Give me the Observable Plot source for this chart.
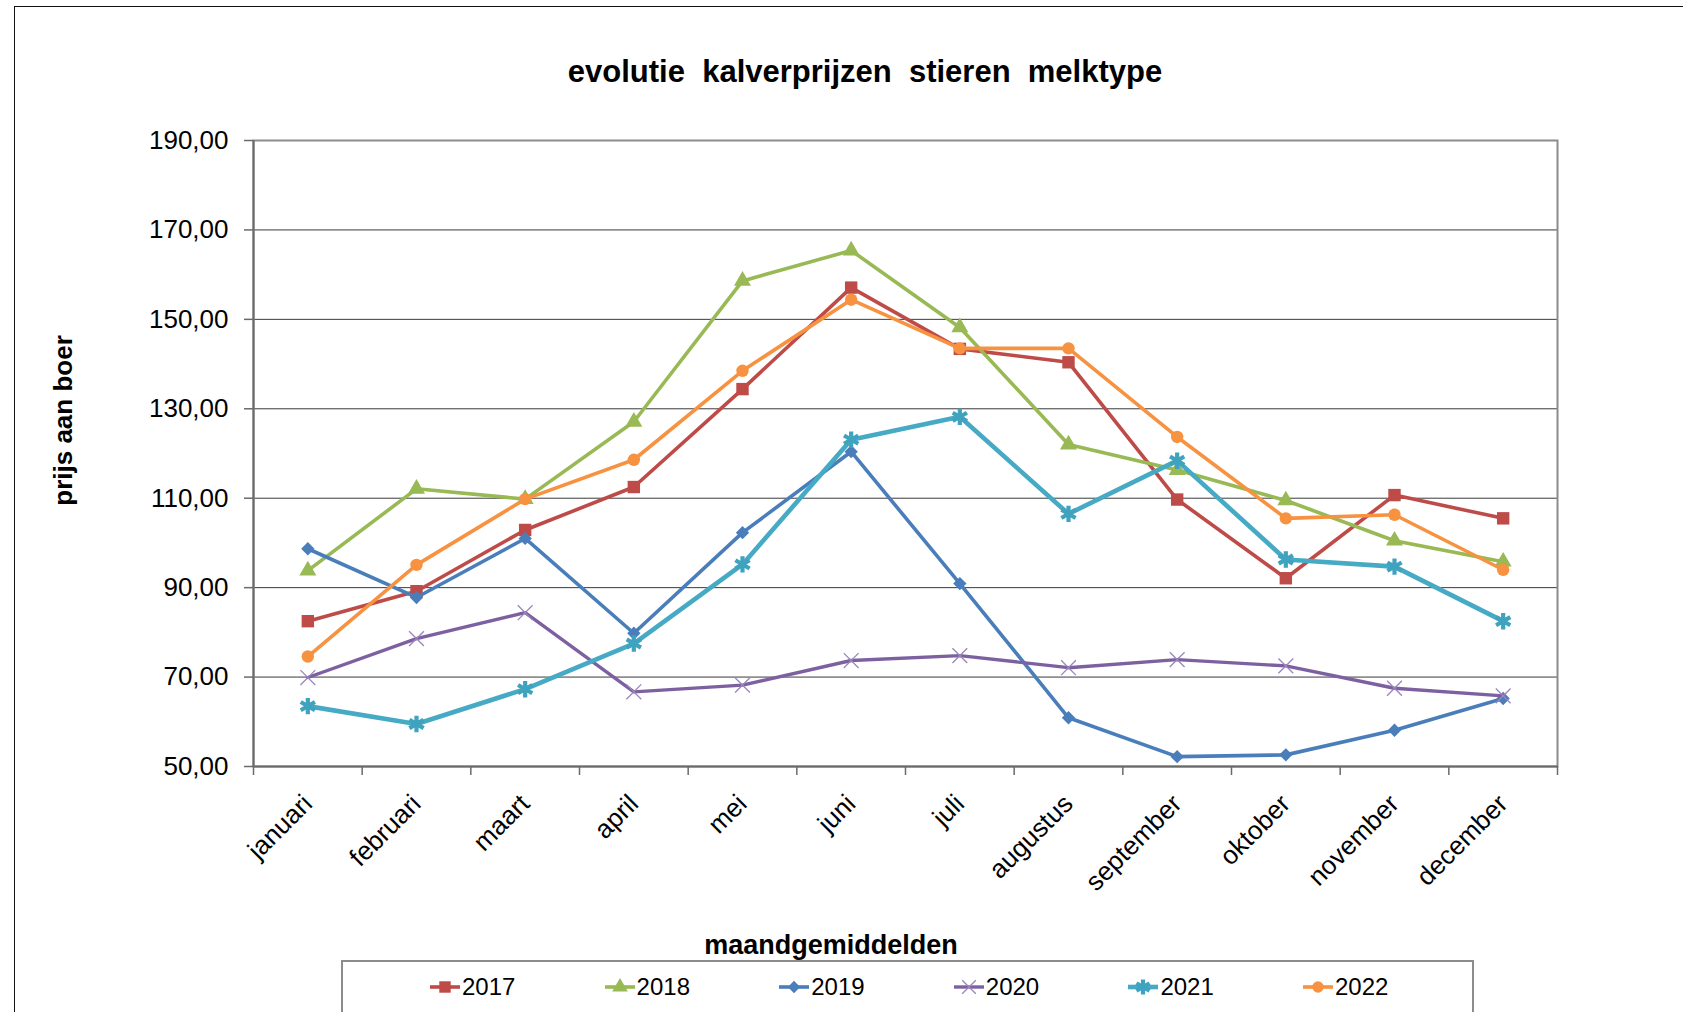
<!DOCTYPE html>
<html>
<head>
<meta charset="utf-8">
<script src="https://cdn.jsdelivr.net/npm/d3@7"></script>
<script src="https://cdn.jsdelivr.net/npm/@observablehq/plot@0.6"></script>
<style>
  body { margin: 0; background: #fff; }
  #wrap { position: relative; width: 1683px; height: 1012px; overflow: hidden; font-family: "Liberation Sans", Arial, sans-serif; color: #000; }
  #frame { position: absolute; left: 14px; top: 6px; width: 1800px; height: 1200px; border-left: 1.5px solid #111; border-top: 1.5px solid #111; }
  #title { position: absolute; left: 0; width: 1730px; top: 56px; text-align: center; font-weight: bold; font-size: 31px; line-height: 31px; white-space: pre; }
  #chart { position: absolute; left: 0; top: 0; }
  #xtitle { position: absolute; left: 0; width: 1662px; top: 932px; text-align: center; font-weight: bold; font-size: 27px; line-height: 27px; }
  #legend { position: absolute; left: 341px; top: 960px; width: 1129px; height: 100px; border: 2px solid #8c8c8c; }
  .item { position: absolute; top: 10px; height: 30px; display: flex; align-items: center; font-size: 24px; }
  .item svg { display: block; }
</style>
</head>
<body>
<div id="wrap">
  <div id="frame"></div>
  <div id="title">evolutie  kalverprijzen  stieren  melktype</div>
  <div id="chart"></div>
  <div id="xtitle">maandgemiddelden</div>
  <div id="legend"></div>
</div>
<script>
const months = ["januari","februari","maart","april","mei","juni","juli","augustus","september","oktober","november","december"];
const years = ["2017","2018","2019","2020","2021","2022"];
const v2017 = [82.5, 89.2, 102.9, 112.5, 134.4, 157.1, 143.4, 140.4, 109.7, 92.1, 110.7, 105.5];
const v2018 = [93.8, 112.1, 109.8, 127.1, 158.6, 165.4, 148.2, 122.0, 116.3, 109.5, 100.5, 95.8];
const v2019 = [98.7, 87.8, 101.0, 79.8, 102.3, 120.4, 90.9, 60.9, 52.2, 52.6, 58.1, 65.2];
const v2020 = [69.9, 78.6, 84.4, 66.7, 68.2, 73.7, 74.8, 72.1, 73.9, 72.5, 67.5, 65.8];
const v2021 = [63.5, 59.5, 67.3, 77.5, 95.2, 123.1, 128.2, 106.5, 118.4, 96.3, 94.7, 82.5];
const v2022 = [74.6, 95.1, 109.8, 118.6, 138.5, 154.4, 143.5, 143.5, 123.7, 105.5, 106.3, 94.0];
const yTicks = [50, 70, 90, 110, 130, 150, 170, 190];

const values = [v2017, v2018, v2019, v2020, v2021, v2022];

const styles = {
  "2017": {color: "#BE4B48", symbol: "square",   r: 7,   lw: 3.6, fill: true,  sw: 0},
  "2018": {color: "#98B954", symbol: "triangle", r: 6.3, lw: 3.6, fill: true,  sw: 0},
  "2019": {color: "#4A7EBB", symbol: "diamond2", r: 6,   lw: 3.6, fill: true,  sw: 0},
  "2020": {color: "#7D60A0", symbol: "times",    r: 6.8, lw: 3.4, fill: false, sw: 1.3, mcolor: "#9A86BC"},
  "2021": {color: "#46AAC5", symbol: "asterisk", r: 7.8, lw: 4.6, fill: false, sw: 4.2, mcolor: "#3FA3BF"},
  "2022": {color: "#F69240", symbol: "circle",   r: 6.2, lw: 3.6, fill: true,  sw: 0}
};

const rowsByYear = years.map((y, k) => values[k].map((v, i) => ({year: y, month: months[i], idx: i, value: v})));

const fmt = d => d.toFixed(2).replace(".", ",");

const marks = [
  Plot.gridY(yTicks.slice(1), {stroke: "#3a3a3a", strokeOpacity: 1, strokeWidth: 1}),
  Plot.frame({stroke: "#8c8c8c", strokeWidth: 2}),
  Plot.ruleX([0], {stroke: "#6a6a6a", strokeWidth: 2}),
  Plot.ruleY([50], {stroke: "#6a6a6a", strokeWidth: 2}),
  Plot.axisY(yTicks, {tickSize: 9, tickPadding: 16, tickFormat: fmt, fontSize: 26, stroke: "#6a6a6a", strokeWidth: 1.5, label: null}),
  Plot.axisX(d3.range(13), {tickSize: 9, tickFormat: () => "", stroke: "#6a6a6a", strokeWidth: 1.5, label: null}),
  Plot.text(months, {x: (d, i) => i + 0.5, frameAnchor: "bottom", rotate: -45, textAnchor: "end", lineAnchor: "middle", dx: 0, dy: 33, fontSize: 26, fill: "#000"}),
  Plot.text(["prijs aan boer"], {frameAnchor: "left", textAnchor: "middle", lineAnchor: "middle", dx: -190, dy: -33, rotate: -90, fontSize: 26, fontWeight: "bold", fill: "#000"})
];

years.forEach((y, k) => {
  const s = styles[y];
  const data = rowsByYear[k];
  marks.push(Plot.line(data, {x: d => d.idx + 0.5, y: "value", stroke: s.color, strokeWidth: s.lw, strokeLinejoin: "round"}));
  if (s.fill) {
    marks.push(Plot.dot(data, {x: d => d.idx + 0.5, y: "value", symbol: s.symbol, r: s.r, fill: s.color, stroke: "none"}));
  } else {
    marks.push(Plot.dot(data, {x: d => d.idx + 0.5, y: "value", symbol: s.symbol, r: s.r, fill: "none", stroke: s.mcolor, strokeWidth: s.sw}));
  }
});

const chart = Plot.plot({
  width: 1683,
  height: 920,
  marginLeft: 253,
  marginRight: 126,
  marginTop: 140,
  marginBottom: 154,
  x: {domain: [0, 12]},
  y: {domain: [50, 190]},
  style: {fontFamily: "'Liberation Sans', Arial, sans-serif", fontSize: "26px", color: "#000", background: "transparent", overflow: "visible"},
  marks
});
document.getElementById("chart").appendChild(chart);

// legend
const symMap = {square: d3.symbolSquare, triangle: d3.symbolTriangle, diamond2: d3.symbolDiamond2, times: d3.symbolTimes, asterisk: d3.symbolAsterisk, circle: d3.symbolCircle};
const legend = d3.select("#legend");
years.forEach((y, k) => {
  const s = styles[y];
  const item = legend.append("div").attr("class", "item").style("left", (86 + k * 174.6) + "px");
  const svg = item.append("svg").attr("width", 32).attr("height", 22);
  svg.append("line").attr("x1", 1).attr("x2", 31).attr("y1", 11).attr("y2", 11).attr("stroke", s.color).attr("stroke-width", s.lw);
  const size = Math.PI * s.r * s.r * 0.85;
  const p = svg.append("path").attr("transform", "translate(16,11)").attr("d", d3.symbol(symMap[s.symbol], size)());
  if (s.fill) p.attr("fill", s.color);
  else p.attr("fill", "none").attr("stroke", s.mcolor).attr("stroke-width", s.sw);
  item.append("span").text(y).style("margin-left", "1px");
});
</script>
</body>
</html>
